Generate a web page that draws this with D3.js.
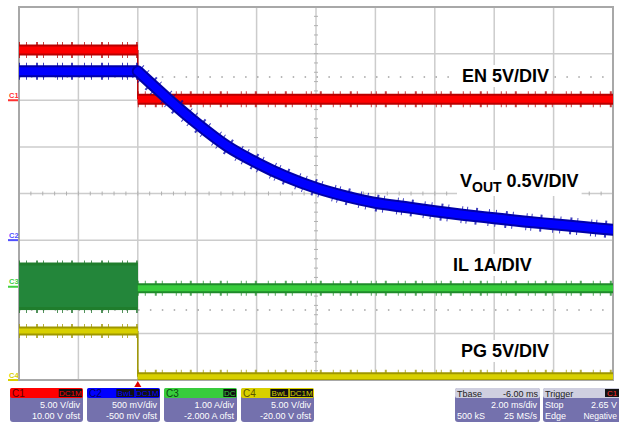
<!DOCTYPE html>
<html><head><meta charset="utf-8">
<script src="https://cdn.jsdelivr.net/npm/d3@7"></script>
<style>html,body{margin:0;padding:0;background:#fff;} svg{display:block;font-family:"Liberation Sans",Arial,sans-serif;}</style>
</head><body><svg id="c" width="619" height="423"></svg>
<script>
// ---- data ----
const channels = ["C1", "C2", "C3", "C4"];
const voltsPerDiv = [5, 0.5, 1, 5];
const offsets = [10, -0.5, -2, -20];
const timeRange = [-4, 16];      // ms (2 ms/div, 10 div)
const triggerTime = 0;
const enLevels = [5.4, 0.1];     // V before / after trigger
const pgLevels = [5.25, 0.35];   // V
const ilLevels = [0.0, -0.03];   // A
const ilRipple = [0.52, -0.50];  // A (switching ripple envelope before trigger)
const vPreLevel = 1.81;          // V
const vTime = [0, 1, 2, 3, 4, 5, 6, 7, 8, 9, 10, 11, 12, 13, 14, 15, 16];
const vOut = [1.81, 1.52, 1.25, 1.01, 0.83, 0.68, 0.56, 0.47, 0.40, 0.355, 0.31, 0.27, 0.235, 0.20, 0.17, 0.14, 0.11];
const traceLabels = ["EN 5V/DIV", "0.5V/DIV", "IL 1A/DIV", "PG 5V/DIV"];
const statusScale = ["5.00 V/div", "500 mV/div", "1.00 A/div", "5.00 V/div"];
const statusOfst = ["10.00 V ofst", "-500 mV ofst", "-2.000 A ofst", "-20.00 V ofst"];
const statusTags = [["DC1M"], ["BwL", "DC1M"], ["DC"], ["BwL", "DC1M"]];

// ---- styles ----
const coreCol = ["#ff0000", "#0000ff", "#38cc3c", "#d8d000"];
const edgeCol = ["#b80000", "#0000a8", "#1f8a2a", "#9e9600"];
const headText = ["#5a0000", "#00005a", "#0a4a10", "#5a5400"];
const markCol = ["#ff3030", "#5050ff", "#40d040", "#d8d000"];
const fringe = "1 6 1 9 2 5 1 13 1 4 1 8 2 11";

const svg = d3.select("#c");
const L = 19, R = 613, T = 7, B = 380;
const x = d3.scaleLinear().domain(timeRange).range([L, R]);
const yDiv = d3.scaleLinear().domain([-4, 4]).range([B, T]);
const yCh = i => v => yDiv((v + offsets[i]) / voltsPerDiv[i]);

// ---- grid ----
const grid = svg.append("g");
x.ticks(10).forEach(t => grid.append("line").attr("x1", x(t)).attr("x2", x(t)).attr("y1", T).attr("y2", B)
  .attr("stroke", "#cccccc").attr("stroke-width", 1.5));
yDiv.ticks(8).forEach(d => grid.append("line").attr("x1", L).attr("x2", R).attr("y1", yDiv(d)).attr("y2", yDiv(d))
  .attr("stroke", "#cccccc").attr("stroke-width", 1.5));
// minor ticks on center axes
d3.range(-4, 4.01, 0.2).forEach(d => grid.append("line").attr("x1", x(6) - 2).attr("x2", x(6) + 2)
  .attr("y1", yDiv(d)).attr("y2", yDiv(d)).attr("stroke", "#b0b0b0").attr("stroke-width", 1));
d3.range(-4, 16.01, 0.4).forEach(t => grid.append("line").attr("x1", x(t)).attr("x2", x(t))
  .attr("y1", yDiv(0) - 2).attr("y2", yDiv(0) + 2).attr("stroke", "#b0b0b0").attr("stroke-width", 1));
// dotted cursor lines
[2.5, -2.5].forEach(d => grid.append("line").attr("x1", L).attr("x2", R).attr("y1", yDiv(d)).attr("y2", yDiv(d))
  .attr("stroke", "#a0a0a0").attr("stroke-width", 1.5).attr("stroke-dasharray", "1.5 10.4"));
// frame
grid.append("rect").attr("x", L).attr("y", T).attr("width", R - L).attr("height", B - T)
  .attr("fill", "none").attr("stroke", "#a8a8a8").attr("stroke-width", 2);

// ---- traces ----
svg.append("clipPath").attr("id", "clip").append("rect").attr("x", L).attr("y", T).attr("width", R - L).attr("height", B - T);
const tr = svg.append("g").attr("clip-path", "url(#clip)");

function band(pts, yFn, w, i, curve, cap) {
  const line = d3.line().x(d => x(d[0])).y(d => yFn(d[1])).curve(curve || d3.curveLinear);
  const d = line(pts);
  tr.append("path").attr("d", d).attr("fill", "none").attr("stroke", edgeCol[i]).attr("stroke-width", w + 5)
    .attr("stroke-dasharray", fringe).attr("opacity", 0.75);
  tr.append("path").attr("d", d).attr("fill", "none").attr("stroke", edgeCol[i]).attr("stroke-width", w)
    .attr("stroke-linecap", cap || "butt");
  tr.append("path").attr("d", d).attr("fill", "none").attr("stroke", coreCol[i]).attr("stroke-width", w - 4)
    .attr("stroke-linecap", cap || "butt");
}
function edgeLine(t, v0, v1, yFn, i) {
  tr.append("line").attr("x1", x(t)).attr("x2", x(t)).attr("y1", yFn(v0)).attr("y2", yFn(v1))
    .attr("stroke", edgeCol[i]).attr("stroke-width", 1.5);
}

// C4 PG (yellow)
const y4 = yCh(3);
edgeLine(triggerTime, pgLevels[0], pgLevels[1], y4, 3);
band([[timeRange[0], pgLevels[0]], [triggerTime, pgLevels[0]]], y4, 9, 3);
band([[triggerTime, pgLevels[1]], [timeRange[1], pgLevels[1]]], y4, 9, 3);

// C3 IL (green)
const y3 = yCh(2);
const ripH = y3(ilRipple[1]) - y3(ilRipple[0]);
tr.append("path").attr("d", d3.line()([[x(timeRange[0]), y3(ilLevels[0])], [x(triggerTime), y3(ilLevels[0])]]))
  .attr("stroke", "#1a6e26").attr("stroke-width", ripH + 5)
  .attr("stroke-dasharray", fringe).attr("fill", "none").attr("opacity", 0.75);
tr.append("rect").attr("x", x(timeRange[0])).attr("width", x(triggerTime) - x(timeRange[0]))
  .attr("y", y3(ilRipple[0])).attr("height", ripH).attr("fill", "#1f7d2c");
tr.append("rect").attr("x", x(timeRange[0])).attr("width", x(triggerTime) - x(timeRange[0]))
  .attr("y", y3(ilRipple[0]) + 3).attr("height", ripH - 6).attr("fill", "#23863a");
band([[triggerTime, ilLevels[1]], [timeRange[1], ilLevels[1]]], y3, 10, 2);

// C1 EN (red)
const y1 = yCh(0);
edgeLine(triggerTime, enLevels[0], enLevels[1], y1, 0);
band([[timeRange[0], enLevels[0]], [triggerTime, enLevels[0]]], y1, 11, 0);
band([[triggerTime, enLevels[1]], [timeRange[1], enLevels[1]]], y1, 11, 0);

// C2 VOUT (blue)
const y2 = yCh(1);
band([[timeRange[0], vPreLevel], [triggerTime, vPreLevel]], y2, 12, 1);
band(vTime.map((t, k) => [t, vOut[k]]), y2, 12, 1, d3.curveMonotoneX, "round");

// ---- channel ground markers ----
channels.forEach((c, i) => {
  const yy = yCh(i)(0);
  svg.append("text").attr("x", 9).attr("y", yy - 2.5).attr("font-size", 7.5).attr("font-weight", "bold")
    .attr("fill", markCol[i]).text(c);
  svg.append("rect").attr("x", 8).attr("y", yy - 1).attr("width", 10).attr("height", 2).attr("fill", markCol[i]);
});

// trigger marker
svg.append("path").attr("d", d3.symbol().type(d3.symbolTriangle).size(22)())
  .attr("transform", `translate(${x(triggerTime)},385)`).attr("fill", "#e00000");

// ---- trace labels ----
const lab = svg.append("g").attr("font-weight", "bold").attr("font-size", 18).attr("fill", "#000");
function addLabel(xx, yy, build) {
  const g = lab.append("g");
  const t = g.append("text").attr("x", xx).attr("y", yy);
  build(t);
  const bb = t.node().getBBox();
  g.insert("rect", "text").attr("x", bb.x - 3).attr("y", bb.y - 1).attr("width", bb.width + 6).attr("height", bb.height + 2).attr("fill", "#fff");
}
addLabel(462, 82, t => t.text(traceLabels[0]));
addLabel(460, 187, t => {
  t.append("tspan").text("V");
  t.append("tspan").attr("font-size", 14).attr("dy", 5).text("OUT");
  t.append("tspan").attr("dy", -5).text(" " + traceLabels[1]);
});
addLabel(453, 271, t => t.text(traceLabels[2]));
addLabel(461, 357, t => t.text(traceLabels[3]));

// ---- status bar ----
const bodyCol = "#7471ad";
const sb = svg.append("g").attr("font-size", 9);
channels.forEach((c, i) => {
  const bx = 10 + i * 77, by = 388, bw = 73;
  const g = sb.append("g");
  g.append("rect").attr("x", bx).attr("y", by).attr("width", bw).attr("height", 34).attr("rx", 3).attr("fill", bodyCol);
  g.append("rect").attr("x", bx).attr("y", by).attr("width", bw).attr("height", 10).attr("rx", 2).attr("fill", coreCol[i]);
  g.append("text").attr("x", bx + 2).attr("y", by + 8.5).attr("font-size", 10).attr("fill", headText[i]).text(c);
  let rx = bx + bw - 1;
  statusTags[i].slice().reverse().forEach(tag => {
    const w = tag.length * 5.3 + 2;
    rx -= w;
    g.append("rect").attr("x", rx).attr("y", by + 1).attr("width", w).attr("height", 8).attr("fill", "#111");
    g.append("text").attr("x", rx + w / 2).attr("y", by + 8).attr("text-anchor", "middle").attr("font-size", 8)
      .attr("fill", coreCol[i]).text(tag);
    rx -= 1.5;
  });
  g.append("text").attr("x", bx + bw - 3).attr("y", by + 20).attr("text-anchor", "end").attr("fill", "#fff").text(statusScale[i]);
  g.append("text").attr("x", bx + bw - 3).attr("y", by + 31).attr("text-anchor", "end").attr("fill", "#fff").text(statusOfst[i]);
});
// Tbase + Trigger
(function () {
  const bx = 455, by = 388, bw = 85;
  sb.append("rect").attr("x", bx).attr("y", by).attr("width", bw).attr("height", 34).attr("rx", 3).attr("fill", bodyCol);
  sb.append("rect").attr("x", bx).attr("y", by).attr("width", bw).attr("height", 10).attr("rx", 2).attr("fill", "#cfcfe0");
  sb.append("text").attr("x", bx + 2).attr("y", by + 8.5).attr("fill", "#222").text("Tbase");
  sb.append("text").attr("x", bx + bw - 2).attr("y", by + 8.5).attr("text-anchor", "end").attr("fill", "#222").text("-6.00 ms");
  sb.append("text").attr("x", bx + bw - 3).attr("y", by + 20).attr("text-anchor", "end").attr("fill", "#fff").text("2.00 ms/div");
  sb.append("text").attr("x", bx + 2).attr("y", by + 31).attr("fill", "#fff").text("500 kS");
  sb.append("text").attr("x", bx + bw - 3).attr("y", by + 31).attr("text-anchor", "end").attr("fill", "#fff").text("25 MS/s");
  const tx = 543, tw = 80;
  sb.append("rect").attr("x", tx).attr("y", by).attr("width", tw).attr("height", 34).attr("rx", 3).attr("fill", bodyCol);
  sb.append("rect").attr("x", tx).attr("y", by).attr("width", tw).attr("height", 10).attr("rx", 2).attr("fill", "#cfcfe0");
  sb.append("text").attr("x", tx + 2).attr("y", by + 8.5).attr("fill", "#222").text("Trigger");
  sb.append("rect").attr("x", 605).attr("y", by + 1).attr("width", 14).attr("height", 8).attr("fill", "#111");
  sb.append("text").attr("x", 612).attr("y", by + 8).attr("text-anchor", "middle").attr("font-size", 8).attr("fill", "#ff3030").text("C1");
  sb.append("text").attr("x", tx + 2).attr("y", by + 20).attr("fill", "#fff").text("Stop");
  sb.append("text").attr("x", 617).attr("y", by + 20).attr("text-anchor", "end").attr("fill", "#fff").text("2.65 V");
  sb.append("text").attr("x", tx + 2).attr("y", by + 31).attr("fill", "#fff").text("Edge");
  sb.append("text").attr("x", 617).attr("y", by + 31).attr("text-anchor", "end").attr("font-size", 8.5).attr("fill", "#fff").text("Negative");
})();
</script></body></html>
